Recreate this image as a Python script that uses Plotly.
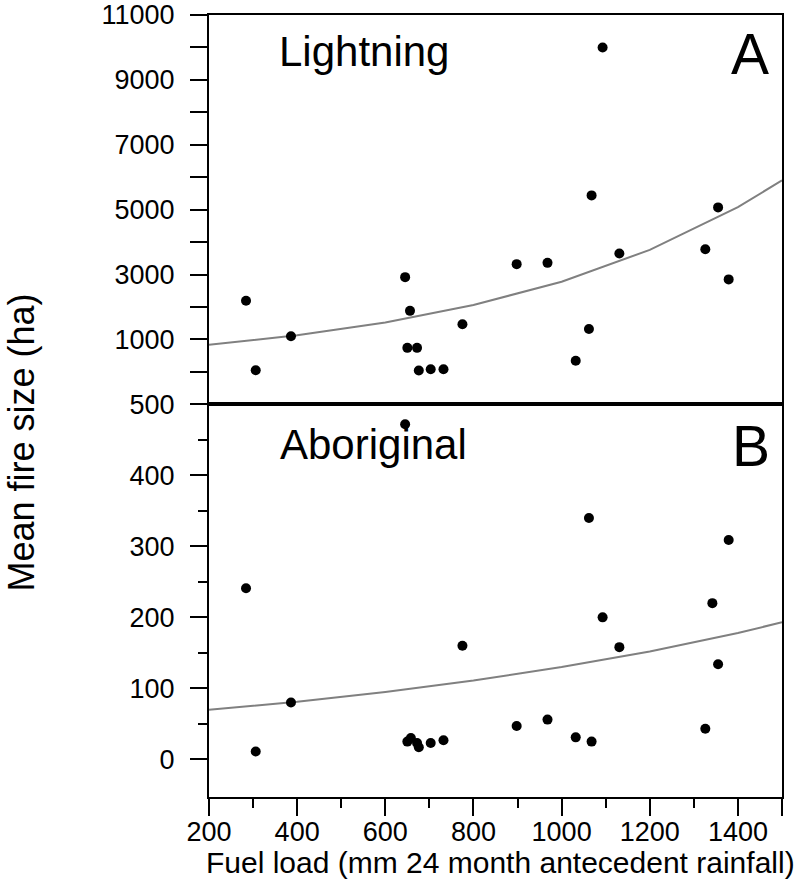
import plotly.graph_objects as go

# ---- data ----
light_fuel = [284, 306, 386, 645, 656, 650, 672, 676, 703, 732, 775,
              1093, 1068, 898, 968, 1131, 1355, 1326, 1379, 1062, 1032]
light_size = [2190, 50, 1100, 2920, 1880, 740, 740, 40, 80, 80, 1470,
              10000, 5440, 3320, 3360, 3650, 5070, 3780, 2850, 1320, 340]

abor_fuel = [284, 306, 386, 645, 775, 650, 658, 672, 676, 703, 732,
             1062, 1379, 1342, 1093, 1131, 1355, 898, 968, 1032, 1068, 1326]
abor_size = [241, 11, 80, 472, 160, 25, 30, 23, 17, 23, 27,
             340, 309, 220, 200, 158, 134, 47, 56, 31, 25, 43]

fit_fuel = [200, 400, 600, 800, 1000, 1200, 1400, 1500]
light_fit = [834, 1130, 1520, 2060, 2780, 3760, 5080, 5900]
abor_fit = [70, 81, 95, 111, 130, 152, 178, 193]

x_ticks = [200, 400, 600, 800, 1000, 1200, 1400, 1500]
x_ticktext = ["200", "400", "600", "800", "1000", "1200", "1400", ""]
top_ticks = [1000, 3000, 5000, 7000, 9000, 11000]
top_ticktext = ["1000", "3000", "5000", "7000", "9000", "11000"]
bot_ticks = [0, 100, 200, 300, 400, 500]
bot_ticktext = ["0", "100", "200", "300", "400", "500"]

FONT = "Liberation Sans, Arial, Helvetica, sans-serif"

# target plot-area pixels
L, R, T, B = 209.3, 781.7, 15.0, 797.0
def px(x):
    return (x - L) / (R - L)
def py(y):
    return (B - y) / (B - T)

split = py(404.3)

fig = go.Figure()

fig.add_trace(go.Scatter(x=fit_fuel, y=light_fit, mode="lines",
                         line=dict(color="#808080", width=2),
                         xaxis="x2", yaxis="y2", showlegend=False))
fig.add_trace(go.Scatter(x=light_fuel, y=light_size, mode="markers",
                         marker=dict(color="black", size=10),
                         xaxis="x2", yaxis="y2", showlegend=False))
fig.add_trace(go.Scatter(x=fit_fuel, y=abor_fit, mode="lines",
                         line=dict(color="#808080", width=2),
                         xaxis="x", yaxis="y", showlegend=False))
fig.add_trace(go.Scatter(x=abor_fuel, y=abor_size, mode="markers",
                         marker=dict(color="black", size=10),
                         xaxis="x", yaxis="y", showlegend=False))

axis_common = dict(showline=True, linecolor="black", linewidth=2, mirror=True,
                   showgrid=False, zeroline=False, automargin=False,
                   ticklabeloverflow="allow")

fig.update_layout(
    width=798, height=888,
    margin=dict(l=209, r=16, t=15, b=91),
    paper_bgcolor="white", plot_bgcolor="white",
    font=dict(family=FONT, color="black", size=27),
    xaxis=dict(**axis_common, domain=[0, 1], anchor="y", range=[200, 1500],
               tickmode="array", tickvals=x_ticks, ticktext=x_ticktext,
               ticks="outside", ticklen=17, tickwidth=2, tickcolor="black",
               ticklabelstandoff=-7,
               tickfont=dict(size=27, family=FONT),
               minor=dict(tickvals=[300, 500, 700, 900, 1100, 1300],
                          ticks="outside", ticklen=9, tickwidth=2, tickcolor="black")),
    yaxis=dict(**axis_common, domain=[0, split], anchor="x", range=[-53, 500],
               tickmode="array", tickvals=bot_ticks, ticktext=bot_ticktext,
               ticks="outside", ticklen=17, tickwidth=2, tickcolor="black",
               ticklabelstandoff=10,
               tickfont=dict(size=27, family=FONT),
               minor=dict(tickvals=[50, 150, 250, 350, 450],
                          ticks="outside", ticklen=9, tickwidth=2, tickcolor="black")),
    xaxis2=dict(**axis_common, domain=[0, 1], anchor="y2", range=[200, 1500],
                matches="x", showticklabels=False, ticks=""),
    yaxis2=dict(**axis_common, domain=[split, 1], anchor="x2", range=[-1000, 11000],
                tickmode="array", tickvals=top_ticks, ticktext=top_ticktext,
                ticks="outside", ticklen=17, tickwidth=2, tickcolor="black",
                ticklabelstandoff=10,
                tickfont=dict(size=27, family=FONT),
                minor=dict(tickvals=[0, 2000, 4000, 6000, 8000, 10000],
                           ticks="outside", ticklen=17, tickwidth=2, tickcolor="black")),
)

anns = [
    dict(text="Lightning", x=px(277), y=py(51), xanchor="left", yanchor="middle",
         font=dict(size=42, family=FONT)),
    dict(text="A", x=px(771), y=py(54), xanchor="right", yanchor="middle",
         font=dict(size=57, family=FONT)),
    dict(text="Aboriginal", x=px(278), y=py(444), xanchor="left", yanchor="middle",
         font=dict(size=42, family=FONT)),
    dict(text="B", x=px(772), y=py(446), xanchor="right", yanchor="middle",
         font=dict(size=57, family=FONT)),
    dict(text="Fuel load (mm 24 month antecedent rainfall)", x=px(500), y=py(862),
         xanchor="center", yanchor="middle", font=dict(size=30, family=FONT)),
    dict(text="Mean fire size (ha)", x=px(21), y=py(443), textangle=-90,
         xanchor="center", yanchor="middle", font=dict(size=36, family=FONT)),
]
for a in anns:
    a.update(xref="paper", yref="paper", showarrow=False)
fig.update_layout(annotations=anns)

fig.write_html("out.html",
               config={"displayModeBar": False},
               post_script="document.body.style.margin='0';document.body.style.overflow='hidden';")
